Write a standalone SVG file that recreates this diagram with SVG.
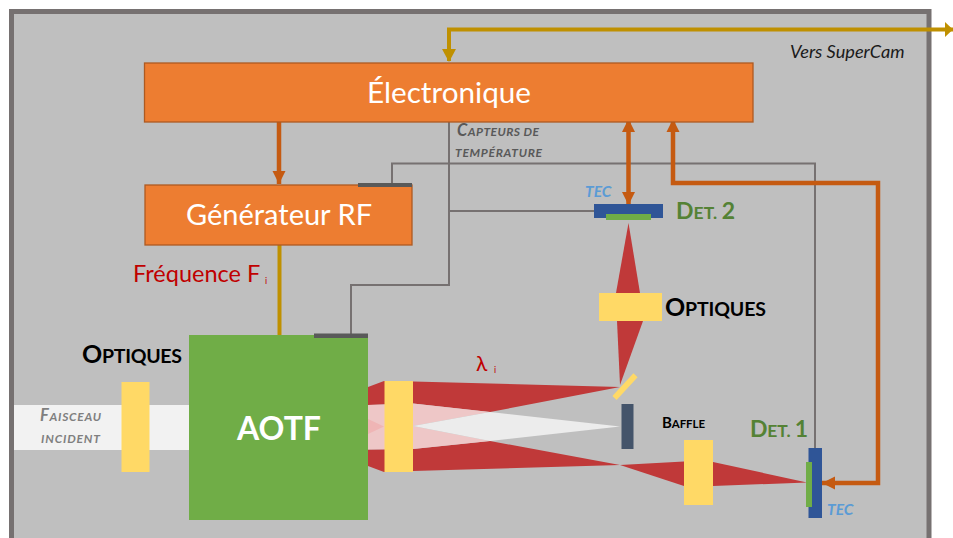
<svg xmlns="http://www.w3.org/2000/svg" width="953" height="538" viewBox="0 0 953 538">
<defs>
<style>
text{font-family:"Lato","Open Sans","Liberation Sans",sans-serif}
.box{fill:#ed7d31;stroke:#ae5a21;stroke-width:1.3}
.w{fill:#fff;text-anchor:middle}
.b{font-weight:700}
.g{fill:none;stroke:#767171;stroke-width:2}
.o{fill:none;stroke:#c55a11;stroke-width:4.500}
.y{fill:none;stroke:#bf9000;stroke-width:4}
.lens{fill:#ffd966}
.red{fill:#c03939}
.pk{fill:#eec7c7}
.blue{fill:#2f5597}
.green{fill:#70ad47}
.bar{fill:#595959}
.tec{fill:#5b9bd5;font-style:italic;font-weight:700;font-size:15.500px}
.det{fill:#548235;font-weight:700;font-size:17.500px}
.det tspan{font-size:23px}
.opt{fill:#000;font-weight:700;font-size:19.500px}
.opt tspan{font-size:25px}
.cap{fill:#595959;font-style:italic;font-weight:700;font-size:12px}
.cap tspan{font-size:16.500px}
.inc{fill:#7f7f7f;font-style:italic;font-weight:700;font-size:12px}
.inc tspan{font-size:16.500px}
</style>
<marker id="ao" markerUnits="userSpaceOnUse" markerWidth="14" markerHeight="14" refX="13" refY="7" orient="auto-start-reverse"><path d="M0,0.500L13,7L0,13.500Z" fill="#c55a11"/></marker>
</defs>
<rect id="panel" x="11.500" y="11.500" width="917.500" height="540" fill="#bfbfbf" stroke="#767171" stroke-width="5"/>
<g id="beams">
<rect x="14" y="405" width="175" height="45" fill="#f2f2f2"/>
<polygon class="red" points="368,387 384,381 413,381.500 620,387 490,412 413,403.500 368,405"/>
<polygon class="red" points="368,449.500 413,449 490,441 620,465 413,471 384,472 368,466"/>
<polygon class="red" points="620,465 684,461.500 713,462 807,482.500 713,486 684,486"/>
<polygon class="pk" points="368,405 413,403.500 490,412 413,426 490,441 413,449 368,449.500"/>
<polygon fill="#efb5b5" points="368,419 384,426.500 368,434"/>
<polygon fill="#ececec" points="413,426 490,412 620,426.500 490,441"/>
<polygon class="red" points="628.500,223 616,293 617,321 620,385 643,321 640,293"/>
</g>
<g id="connectors">
<path class="y" d="M953,29.500H449V61"/>
<path d="M945,22L953,29.500L945,37Z" fill="#bf9000"/>
<path d="M442,49L449,62L456,49Z" fill="#bf9000"/>
<path class="y" d="M279.500,245V335"/>
<path class="g" d="M449,122V285H351V335"/>
<path class="g" d="M392,184V163.500H815V448"/>
<path class="g" d="M449,211H594"/>
<path class="o" d="M279,122V184" marker-end="url(#ao)"/>
<path class="o" d="M628.500,119V205" marker-start="url(#ao)" marker-end="url(#ao)"/>
<path class="o" d="M822,483H878V183H673V119" marker-start="url(#ao)" marker-end="url(#ao)"/>
</g>
<g id="electronique"><rect class="box" x="144.500" y="63" width="608.500" height="59"/><text class="w" x="449" y="103" font-size="29.700">Électronique</text></g>
<g id="generateur"><rect class="box" x="145" y="185" width="267" height="60"/><text class="w" x="279" y="225" font-size="29">Générateur RF</text></g>
<rect class="bar" x="358" y="183" width="54" height="4"/>
<g id="frequence"><text x="133" y="282" font-size="23.500" fill="#c00000">Fréquence F</text><text x="265" y="284" font-size="9" fill="#c00000">i</text></g>
<g id="aotf"><rect x="189" y="335" width="179" height="185" fill="#70ad47"/><text class="w b" x="279" y="440" font-size="32">AOTF</text></g>
<rect class="bar" x="314" y="333.500" width="54" height="4.500"/>
<g id="optique-entree"><rect class="lens" x="121.500" y="382" width="28" height="90"/><text class="opt" x="82" y="363" textLength="100"><tspan>O</tspan>PTIQUES</text></g>
<g id="faisceau"><text class="inc" x="40" y="421" textLength="61"><tspan>F</tspan>AISCEAU</text><text class="inc" x="41" y="443" textLength="59">INCIDENT</text></g>
<rect id="lentille" class="lens" x="384.500" y="381" width="28.500" height="91"/>
<g id="lambda"><text x="476" y="371" font-size="21" fill="#c00000" font-family="Liberation Sans">λ</text><text x="494" y="373" font-size="9" fill="#c00000">i</text></g>
<g id="miroir"><line x1="614.500" y1="398" x2="635.500" y2="375.300" stroke="#ffd966" stroke-width="5.700"/></g>
<g id="baffle"><rect x="621.500" y="404" width="12" height="45" fill="#44546a"/><text x="662" y="428" font-size="11.500" font-weight="700" fill="#000" textLength="43"><tspan font-size="15">B</tspan>AFFLE</text></g>
<g id="optique-det2"><rect class="lens" x="599" y="293" width="63" height="28"/><text class="opt" x="665" y="316" textLength="101"><tspan>O</tspan>PTIQUES</text></g>
<g id="det2"><rect class="blue" x="594" y="204" width="69" height="14"/><rect class="green" x="606" y="214" width="45" height="6"/><text class="det" x="676" y="219" textLength="59"><tspan>D</tspan>ET. <tspan>2</tspan></text><text class="tec" x="585" y="197">TEC</text></g>
<g id="optique-det1"><rect class="lens" x="684" y="440" width="29" height="65"/></g>
<g id="det1"><rect class="blue" x="808.500" y="448" width="13.500" height="70"/><rect class="green" x="806" y="462" width="6" height="45"/><text class="det" x="750" y="437" textLength="58"><tspan>D</tspan>ET. <tspan>1</tspan></text><text class="tec" x="827" y="515">TEC</text></g>
<g id="capteurs"><text class="cap" x="457" y="136" textLength="82"><tspan>C</tspan>APTEURS DE</text><text class="cap" x="455" y="157" textLength="87">TEMPÉRATURE</text></g>
<text x="790" y="58" font-size="18.200" font-style="italic" fill="#1a1a1a">Vers SuperCam</text>
</svg>
